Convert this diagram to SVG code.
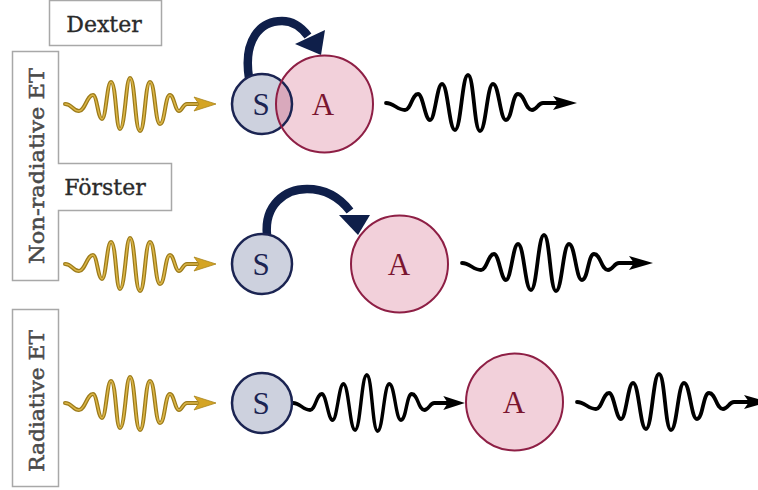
<svg xmlns="http://www.w3.org/2000/svg" xmlns:xlink="http://www.w3.org/1999/xlink" width="758" height="490" viewBox="0 0 758 490">
<style>
.box{fill:#fff;stroke:#a8a8a8;stroke-width:1.5}
.lbl{font-family:"DejaVu Serif","Liberation Serif",serif;font-size:22px;fill:#2a2a2a;stroke:#2a2a2a;stroke-width:0.35}
.vlbl{font-family:"DejaVu Serif","Liberation Serif",serif;font-size:21px;fill:#4a4a4a;stroke:#4a4a4a;stroke-width:0.5}
.sfill{fill:#cdd1de}
.afill{fill:#f2d0da}
.sline{fill:none;stroke:#1b2452;stroke-width:2.5}
.aline{fill:none;stroke:#8e1f45;stroke-width:2}
.stxt{font-family:"Liberation Serif","DejaVu Serif",serif;font-size:31px;fill:#1b2452;text-anchor:middle}
.atxt{font-family:"Liberation Serif","DejaVu Serif",serif;font-size:31px;fill:#7a1530;text-anchor:middle}
.bw{fill:none;stroke:#000;stroke-width:3.8;stroke-linecap:round;stroke-linejoin:round}
.go{fill:none;stroke:#9c7b1a;stroke-width:4;stroke-linecap:round}
.gi{fill:none;stroke:#dcb648;stroke-width:1.5;stroke-linecap:round}
.cur{fill:none;stroke:#0f1f4a;stroke-width:8.5}
.curh{fill:#0f1f4a}
</style>
<defs>
<g id="blackwave">
<path class="bw" d="M0,0 C8,0 11,7 19,7 C25,7 26,-9 32,-9 C37,-9 39,17 44,17 C49,17 51,-19 56,-19 C62,-19 63,27 69,27 C75,27 76,-28 82,-28 C88,-28 88,28 94,28 C100,28 101,-19 107,-19 C113,-19 114,17 120,17 C126,17 126,-9 132,-9 C139,-9 139,7 146,7 C151,7 152,0 157,0 L172,0"/>
<polygon points="191,0 167,-7 172,0 167,7" fill="#000"/>
</g>
<g id="goldwave">
<path class="go" d="M0,0 C7,0 8,7 14,7 C20,7 22,-9 28,-9 C32,-9 33,15 37,15 C41,15 42,-22 46,-22 C51,-22 51,25 55,25 C60,25 61,-26 65,-26 C70,-26 70,27 75,27 C80,27 80,-22 85,-22 C90,-22 90,20 95,20 C100,20 100,-9 105,-9 C109,-9 110,7 114,7 C117,7 118,0 122,0 L134,0"/>
<path class="gi" d="M0,0 C7,0 8,7 14,7 C20,7 22,-9 28,-9 C32,-9 33,15 37,15 C41,15 42,-22 46,-22 C51,-22 51,25 55,25 C60,25 61,-26 65,-26 C70,-26 70,27 75,27 C80,27 80,-22 85,-22 C90,-22 90,20 95,20 C100,20 100,-9 105,-9 C109,-9 110,7 114,7 C117,7 118,0 122,0 L134,0"/>
<polygon points="151,0 129,-7 134,0 129,7" fill="#d4a424" stroke="#a8841c" stroke-width="0.8"/>
</g>
<clipPath id="clipS1"><circle cx="262" cy="104" r="30"/></clipPath>
</defs>

<g id="labels">
<rect class="box" x="49.5" y="0.5" width="112" height="45"/>
<text class="lbl" x="104" y="32" text-anchor="middle">Dexter</text>
<path class="box" d="M12.5,51.5 H58.5 V163.5 H171.5 V210.5 H58.5 V280.5 H12.5 Z"/>
<text class="lbl" x="105" y="195" text-anchor="middle">Förster</text>
<text class="vlbl" transform="translate(44,166) rotate(-90)" text-anchor="middle" textLength="196" lengthAdjust="spacingAndGlyphs">Non-radiative ET</text>
<rect class="box" x="12.5" y="309.5" width="46" height="177"/>
<text class="vlbl" transform="translate(44,401) rotate(-90)" text-anchor="middle" textLength="142" lengthAdjust="spacingAndGlyphs">Radiative ET</text>
</g>

<g id="connectors">
<use xlink:href="#goldwave" transform="translate(65,104)"/>
<use xlink:href="#goldwave" transform="translate(65,264)"/>
<use xlink:href="#goldwave" transform="translate(65,403)"/>
<use xlink:href="#blackwave" transform="translate(386,103)"/>
<use xlink:href="#blackwave" transform="translate(462,263)"/>
<use xlink:href="#blackwave" transform="translate(293,403) scale(0.9,1)"/>
<use xlink:href="#blackwave" transform="translate(577,402)"/>
<path class="cur" d="M249,78 C243,40 260,21 282,21 C294,21 302,28 308,36"/>
<polygon class="curh" points="295,44 325,30 321,55"/>
<path class="cur" d="M267,235 C264,205 285,189 307,189 C327,189 340,198 350,211"/>
<polygon class="curh" points="339,215 370,215 358,235"/>
</g>

<g id="S1">
<circle class="sfill" cx="262" cy="104" r="30"/>
</g>
<g id="A1">
<circle class="afill" cx="324.5" cy="104" r="48.5"/>
<circle cx="324.5" cy="104" r="48.5" fill="#d9a9bc" clip-path="url(#clipS1)"/>
<circle class="sline" cx="262" cy="104" r="30"/>
<circle class="aline" cx="324.5" cy="104" r="48.5"/>
<text class="stxt" x="261" y="115">S</text>
<text class="atxt" x="323" y="115">A</text>
</g>

<g id="S2">
<circle class="sfill" cx="262" cy="264" r="30"/>
<circle class="sline" cx="262" cy="264" r="30"/>
<text class="stxt" x="261" y="275">S</text>
</g>
<g id="A2">
<circle class="afill" cx="399.5" cy="264" r="48.5"/>
<circle class="aline" cx="399.5" cy="264" r="48.5"/>
<text class="atxt" x="399" y="275">A</text>
</g>

<g id="S3">
<circle class="sfill" cx="262" cy="403" r="30"/>
<circle class="sline" cx="262" cy="403" r="30"/>
<text class="stxt" x="261" y="414">S</text>
</g>
<g id="A3">
<circle class="afill" cx="514.5" cy="402" r="48.5"/>
<circle class="aline" cx="514.5" cy="402" r="48.5"/>
<text class="atxt" x="514" y="413">A</text>
</g>
</svg>
